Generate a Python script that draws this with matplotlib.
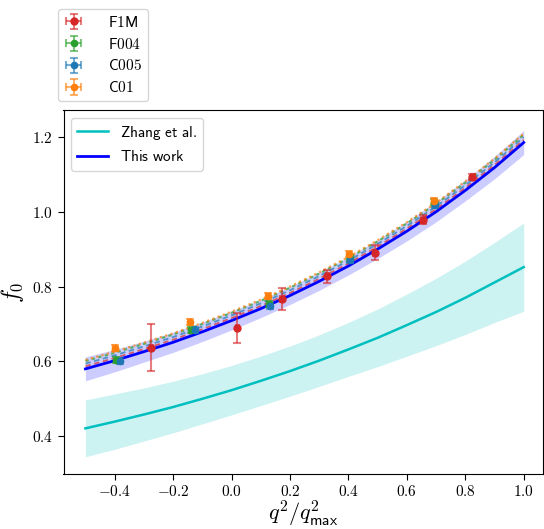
import matplotlib
matplotlib.use("Agg")
import matplotlib.pyplot as plt
import numpy as np

plt.rcParams['mathtext.fontset'] = 'cm'

# ---- data ----
xgrid = [-0.5, -0.4, -0.3, -0.2, -0.1, 0.0, 0.1, 0.2, 0.3, 0.4, 0.5, 0.6, 0.7, 0.8, 0.9, 1.0]

this_work = [0.580, 0.602, 0.626, 0.651, 0.679, 0.709, 0.741, 0.776, 0.814, 0.855,
             0.900, 0.948, 1.000, 1.057, 1.118, 1.185]
this_work_err = [0.032, 0.030, 0.028, 0.027, 0.026, 0.025, 0.024, 0.024, 0.024, 0.024,
                 0.025, 0.026, 0.027, 0.028, 0.030, 0.032]

zhang = [0.421, 0.439, 0.458, 0.478, 0.500, 0.523, 0.548, 0.574, 0.602, 0.632,
         0.663, 0.697, 0.732, 0.770, 0.811, 0.852]
zhang_err = [0.076, 0.074, 0.071, 0.069, 0.067, 0.066, 0.066, 0.067, 0.069, 0.072,
             0.077, 0.083, 0.090, 0.098, 0.107, 0.118]

fit_C01 = [0.604, 0.626, 0.650, 0.675, 0.703, 0.733, 0.765, 0.800, 0.838, 0.879,
           0.924, 0.972, 1.024, 1.081, 1.142, 1.209]
fit_F004 = [0.601, 0.623, 0.647, 0.672, 0.700, 0.730, 0.762, 0.797, 0.835, 0.876,
            0.921, 0.969, 1.021, 1.078, 1.139, 1.206]
fit_C005 = [0.594, 0.616, 0.640, 0.665, 0.693, 0.723, 0.755, 0.790, 0.828, 0.869,
            0.914, 0.962, 1.014, 1.071, 1.132, 1.199]
fit_F1M = [0.587, 0.609, 0.633, 0.658, 0.686, 0.716, 0.748, 0.783, 0.821, 0.862,
           0.907, 0.955, 1.007, 1.064, 1.125, 1.192]

F1M_x = [-0.274, 0.020, 0.173, 0.328, 0.490, 0.656, 0.824]
F1M_y = [0.637, 0.690, 0.767, 0.827, 0.890, 0.979, 1.094]
F1M_yerr = [0.063, 0.040, 0.030, 0.017, 0.020, 0.013, 0.008]

F004_x = [-0.394, -0.140, 0.128, 0.405, 0.694]
F004_y = [0.605, 0.685, 0.754, 0.877, 1.026]
F004_yerr = [0.008, 0.008, 0.008, 0.008, 0.008]

C005_x = [-0.383, -0.126, 0.133, 0.407, 0.696]
C005_y = [0.601, 0.683, 0.749, 0.872, 1.017]
C005_yerr = [0.008, 0.008, 0.008, 0.008, 0.008]

C01_x = [-0.400, -0.143, 0.125, 0.402, 0.692]
C01_y = [0.637, 0.706, 0.774, 0.887, 1.030]
C01_yerr = [0.008, 0.008, 0.008, 0.008, 0.008]

xticks = [-0.4, -0.2, 0.0, 0.2, 0.4, 0.6, 0.8, 1.0]
yticks = [0.4, 0.6, 0.8, 1.0, 1.2]

# ---- figure ----
fig = plt.figure(figsize=(5.44, 5.29), dpi=100)
W, H = 544, 529
ax = fig.add_axes([63.5 / W, (H - 474) / H, (543 - 63.5) / W, (474 - 110) / H])

xg = np.array(xgrid)
tw = np.array(this_work); twe = np.array(this_work_err)
zh = np.array(zhang); zhe = np.array(zhang_err)

ax.fill_between(xg, zh - zhe, zh + zhe, color='c', alpha=0.2, lw=0)
lz, = ax.plot(xg, zh, color='c', lw=1.8, label=r'$\mathsf{Zhang\ et\ al.}$')
ax.fill_between(xg, tw - twe, tw + twe, color='blue', alpha=0.2, lw=0)

ax.plot(xg, fit_F1M, color='tab:red', ls=(0, (3, 2)), lw=1.3, alpha=0.7)
ax.plot(xg, fit_C005, color='tab:blue', ls=(0, (3, 2)), lw=1.3, alpha=0.7)
ax.plot(xg, fit_F004, color='tab:green', ls=(0, (1.5, 1.5)), lw=1.6, alpha=0.7)
ax.plot(xg, fit_C01, color='tab:orange', ls=(0, (1, 1.5)), lw=1.6, alpha=0.7)

lt, = ax.plot(xg, tw, color='blue', lw=2.0, label=r'$\mathsf{This\ work}$')

handles = []
for xs, ys, ye, col, lab, ms in [
        (F1M_x, F1M_y, F1M_yerr, 'tab:red', 'F1M', 5),
        (F004_x, F004_y, F004_yerr, 'tab:green', 'F004', 4.5),
        (C005_x, C005_y, C005_yerr, 'tab:blue', 'C005', 4.5),
        (C01_x, C01_y, C01_yerr, 'tab:orange', 'C01', 4.5)]:
    c = ax.errorbar(xs, ys, yerr=ye, xerr=0.006, fmt='o', color=col, ms=ms,
                    capsize=3, elinewidth=1.5, capthick=1.5,
                    label=r'$\mathsf{' + lab + '}$', zorder=5)
    for art in c[1]:
        art.set_alpha(0.6)
    for art in c[2]:
        art.set_alpha(0.6)
    handles.append(c)

ax.set_xlim(-0.575, 1.066)
ax.set_ylim(0.299, 1.272)
ax.set_xticks(xticks)
ax.set_yticks(yticks)
ax.set_xticklabels([r'$%.1f$' % v for v in xticks], fontsize=11)
ax.set_yticklabels([r'$%.1f$' % v for v in yticks], fontsize=11)
ax.tick_params(direction='out', length=4, width=0.8)

ax.set_xlabel(r'$q^2/q^2_{\mathsf{max}}$', fontsize=16, labelpad=0)
ax.set_ylabel(r'$f_0$', fontsize=17)
ax.yaxis.set_label_coords(-0.078, 0.5)

ax.legend(handles=[lz, lt], loc='upper left', fontsize=11, framealpha=0.8,
          handlelength=2.0, borderaxespad=0.5, edgecolor='#cccccc')

fig.legend(handles=handles, loc='upper left', bbox_to_anchor=(50 / W, 1 - 1 / H),
           fontsize=11, framealpha=0.8, edgecolor='#cccccc', handlelength=1.3,
           handletextpad=1.6, labelspacing=0.45)

fig.savefig('out.png', dpi=100)
